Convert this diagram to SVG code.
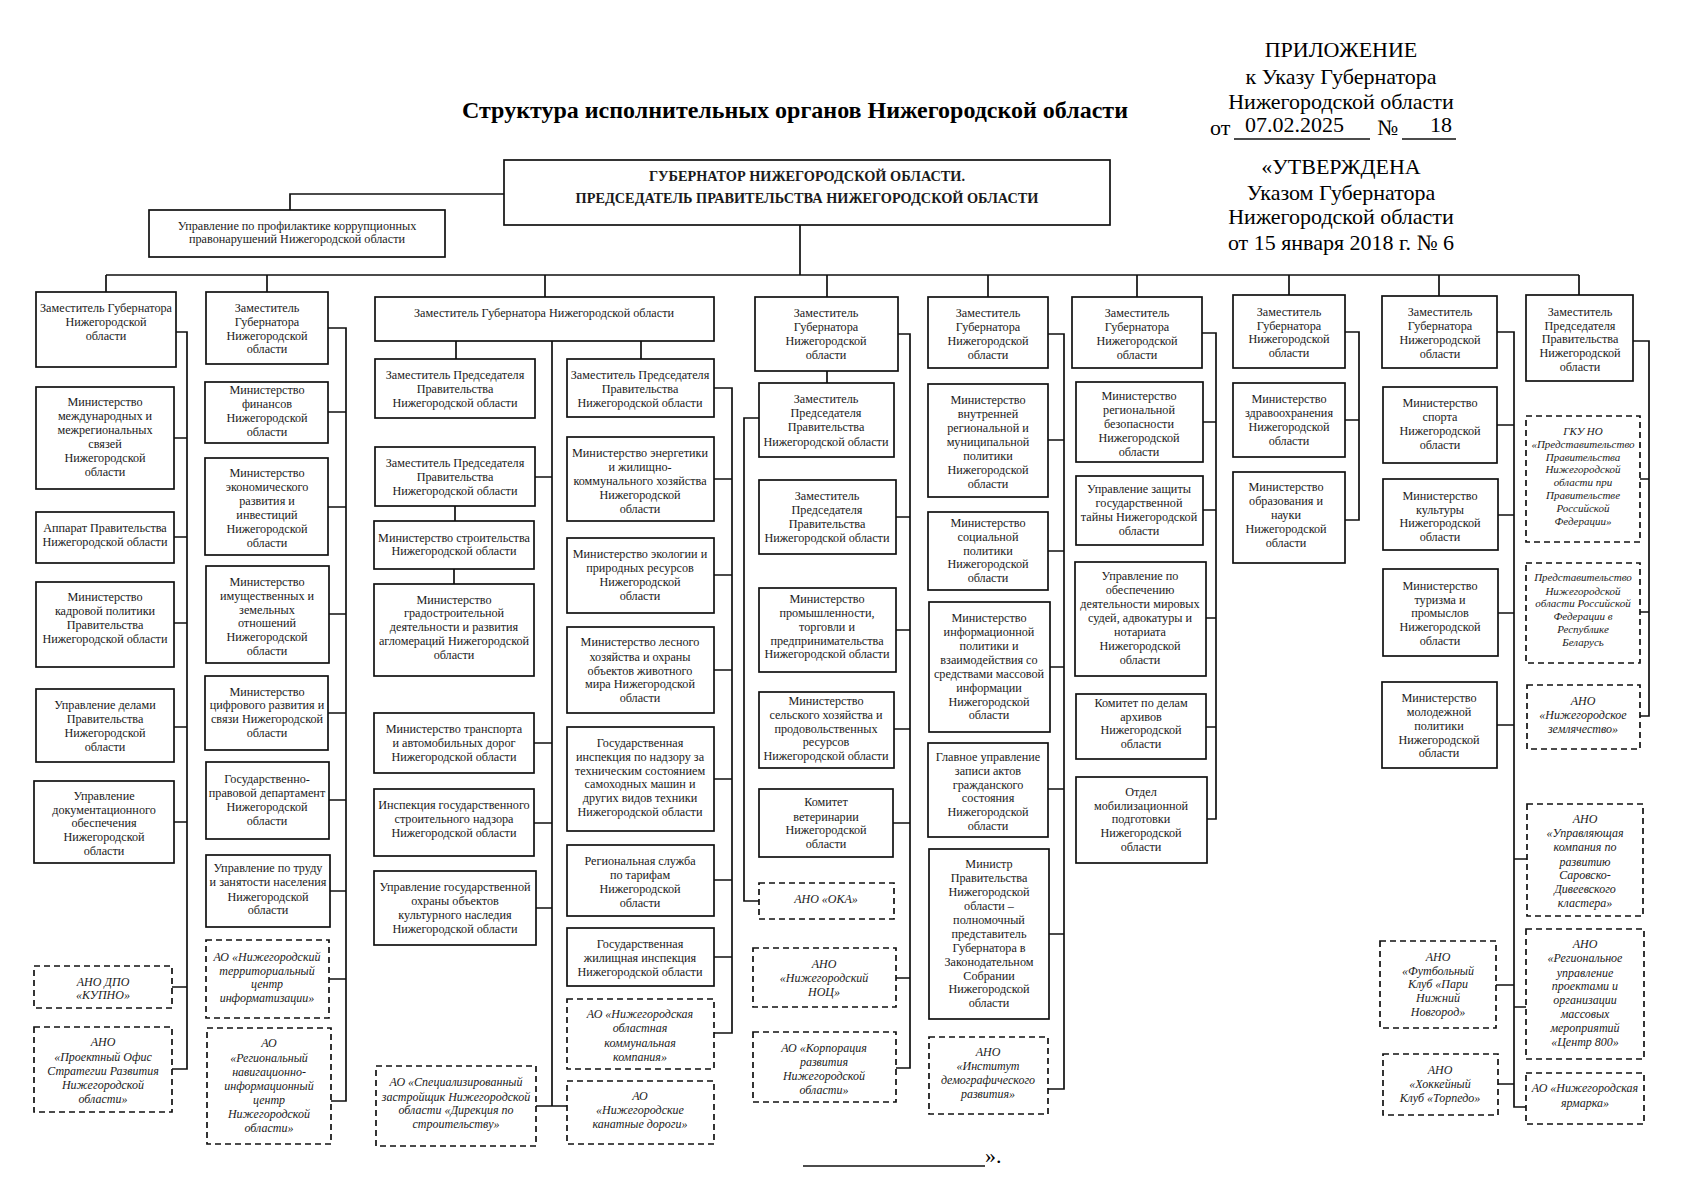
<svg xmlns="http://www.w3.org/2000/svg" width="1697" height="1200" viewBox="0 0 1697 1200">
<style>
.b{fill:#fff;stroke:#111;stroke-width:1.7}
.d{fill:#fff;stroke:#111;stroke-width:1.7;stroke-dasharray:6 4}
.t{font-family:"Liberation Serif","Times New Roman",serif;font-size:12.2px;text-anchor:middle;fill:#1a1a1a}
.i{font-family:"Liberation Serif","Times New Roman",serif;font-size:12px;font-style:italic;text-anchor:middle;fill:#1a1a1a}
.s{font-size:11px}
.h{font-family:"Liberation Serif","Times New Roman",serif;font-size:22px;text-anchor:middle;fill:#000}
.st{text-anchor:start}
.c{fill:none;stroke:#111;stroke-width:1.7}
</style>
<rect width="1697" height="1200" fill="#fff"/>
<g id="header">
<text class="h" x="795" y="118" style="font-size:24px;font-weight:bold">Структура исполнительных органов Нижегородской области</text>
<text class="h" x="1341" y="57">ПРИЛОЖЕНИЕ</text>
<text class="h" x="1341" y="84">к Указу Губернатора</text>
<text class="h" x="1341" y="109">Нижегородской области</text>
<text class="h st" x="1210" y="135">от</text>
<text class="h st" x="1245" y="132">07.02.2025</text>
<text class="h st" x="1377" y="135">№</text>
<text class="h st" x="1430" y="132">18</text>
<line class="c" x1="1234" y1="139" x2="1370" y2="139" stroke-width="1.2"/>
<line class="c" x1="1402" y1="139" x2="1456" y2="139" stroke-width="1.2"/>
<text class="h" x="1341" y="174">«УТВЕРЖДЕНА</text>
<text class="h" x="1341" y="200">Указом Губернатора</text>
<text class="h" x="1341" y="224">Нижегородской области</text>
<text class="h" x="1341" y="250">от 15 января 2018 г. № 6</text>
<line class="c" x1="803" y1="1166" x2="985" y2="1166" stroke-width="1.2"/>
<text class="h st" x="985" y="1163">».</text>
</g>
<g id="connectors">
<path class="c" d="M504 194H290V210M800 225V275M106 275H1579M106 275V292M267 275V292M545 275V297M827 275V297M988 275V297M1137 275V297M1289 275V295M1439 275V296M1579 275V295"/>
<path class="c" d="M176 332H187V1069H172M174 438H187M174 537H187M174 623H187M174 727H187M174 822H187M172 987H187"/>
<path class="c" d="M328 328H346V1101H331M328 412H346M328 507H346M329 614H346M328 713H346M329 800H346M330 891H346M329 979H346"/>
<path class="c" d="M456 341V359M641 341V359M552 341V1106M535 477H552M455 506V521M454 569V584M534 743H552M534 823H552M536 908H552M536 1106H567"/>
<path class="c" d="M714 388H732V1033H714M714 479H732M714 575H732M714 670H732M714 779H732M714 880H732M714 957H732"/>
<path class="c" d="M827 371V383M898 334H910V1068H896M896 517H910M896 630H910M894 729H910M893 823H910M896 978H910M759 418H744V901H759"/>
<path class="c" d="M1048 334H1064V1089H1048M1048 440H1064M1048 551H1064M1050 667H1064M1048 789H1064M1049 934H1064"/>
<path class="c" d="M1202 333H1216V819H1207M1203 422H1216M1203 510H1216M1206 618H1216M1206 727H1216"/>
<path class="c" d="M1345 332H1359V520H1345M1345 420H1359"/>
<path class="c" d="M1497 332H1514V1107H1526M1497 425H1514M1498 515H1514M1498 613H1514M1497 725H1514M1496 985H1514M1498 1084H1514M1514 859H1527M1514 1007H1526"/>
<path class="c" d="M1633 341H1649V716H1640M1640 479H1649M1640 612H1649"/>
</g>
<g id="governor"><rect class="b" x="504" y="160" width="606" height="65"/>
<text class="t" style="font-size:14.3px;font-weight:bold"><tspan x="807" y="181">ГУБЕРНАТОР НИЖЕГОРОДСКОЙ ОБЛАСТИ.</tspan><tspan x="807" y="203">ПРЕДСЕДАТЕЛЬ ПРАВИТЕЛЬСТВА НИЖЕГОРОДСКОЙ ОБЛАСТИ</tspan></text></g>
<g id="anticorr"><rect class="b" x="149" y="210" width="296" height="47"/>
<text class="t"><tspan x="297" y="230">Управление по профилактике коррупционных</tspan><tspan x="297" y="243">правонарушений Нижегородской области</tspan></text></g>

<g id="a1"><rect class="b" x="36" y="292" width="140" height="75"/><text class="t"><tspan x="106" y="312">Заместитель Губернатора</tspan><tspan x="106" y="326">Нижегородской</tspan><tspan x="106" y="340">области</tspan></text></g>
<g id="a2"><rect class="b" x="36" y="387" width="138" height="102"/><text class="t"><tspan x="105" y="406">Министерство</tspan><tspan x="105" y="420">международных и</tspan><tspan x="105" y="434">межрегиональных</tspan><tspan x="105" y="448">связей</tspan><tspan x="105" y="462">Нижегородской</tspan><tspan x="105" y="476">области</tspan></text></g>
<g id="a3"><rect class="b" x="36" y="512" width="138" height="51"/><text class="t"><tspan x="105" y="532">Аппарат Правительства</tspan><tspan x="105" y="546">Нижегородской области</tspan></text></g>
<g id="a4"><rect class="b" x="36" y="582" width="138" height="85"/><text class="t"><tspan x="105" y="601">Министерство</tspan><tspan x="105" y="615">кадровой политики</tspan><tspan x="105" y="629">Правительства</tspan><tspan x="105" y="643">Нижегородской области</tspan></text></g>
<g id="a5"><rect class="b" x="36" y="689" width="138" height="73"/><text class="t"><tspan x="105" y="709">Управление делами</tspan><tspan x="105" y="723">Правительства</tspan><tspan x="105" y="737">Нижегородской</tspan><tspan x="105" y="751">области</tspan></text></g>
<g id="a6"><rect class="b" x="34" y="781" width="140" height="82"/><text class="t"><tspan x="104" y="800">Управление</tspan><tspan x="104" y="814">документационного</tspan><tspan x="104" y="827">обеспечения</tspan><tspan x="104" y="841">Нижегородской</tspan><tspan x="104" y="855">области</tspan></text></g>
<g id="a7"><rect class="d" x="34" y="966" width="138" height="42"/><text class="i"><tspan x="103" y="986">АНО ДПО</tspan><tspan x="103" y="999">«КУПНО»</tspan></text></g>
<g id="a8"><rect class="d" x="34" y="1027" width="138" height="85"/><text class="i"><tspan x="103" y="1046">АНО</tspan><tspan x="103" y="1061">«Проектный Офис</tspan><tspan x="103" y="1075">Стратегии Развития</tspan><tspan x="103" y="1089">Нижегородской</tspan><tspan x="103" y="1103">области»</tspan></text></g>

<g id="b1"><rect class="b" x="206" y="292" width="122" height="72"/><text class="t"><tspan x="267" y="312">Заместитель</tspan><tspan x="267" y="326">Губернатора</tspan><tspan x="267" y="340">Нижегородской</tspan><tspan x="267" y="353">области</tspan></text></g>
<g id="b2"><rect class="b" x="205" y="382" width="123" height="61"/><text class="t"><tspan x="267" y="394">Министерство</tspan><tspan x="267" y="408">финансов</tspan><tspan x="267" y="422">Нижегородской</tspan><tspan x="267" y="436">области</tspan></text></g>
<g id="b3"><rect class="b" x="205" y="458" width="123" height="97"/><text class="t"><tspan x="267" y="477">Министерство</tspan><tspan x="267" y="491">экономического</tspan><tspan x="267" y="505">развития и</tspan><tspan x="267" y="519">инвестиций</tspan><tspan x="267" y="533">Нижегородской</tspan><tspan x="267" y="547">области</tspan></text></g>
<g id="b4"><rect class="b" x="206" y="566" width="123" height="97"/><text class="t"><tspan x="267" y="586">Министерство</tspan><tspan x="267" y="600">имущественных и</tspan><tspan x="267" y="614">земельных</tspan><tspan x="267" y="627">отношений</tspan><tspan x="267" y="641">Нижегородской</tspan><tspan x="267" y="655">области</tspan></text></g>
<g id="b5"><rect class="b" x="205" y="676" width="123" height="74"/><text class="t"><tspan x="267" y="696">Министерство</tspan><tspan x="267" y="709">цифрового развития и</tspan><tspan x="267" y="723">связи Нижегородской</tspan><tspan x="267" y="737">области</tspan></text></g>
<g id="b6"><rect class="b" x="206" y="762" width="123" height="77"/><text class="t"><tspan x="267" y="783">Государственно-</tspan><tspan x="267" y="797">правовой департамент</tspan><tspan x="267" y="811">Нижегородской</tspan><tspan x="267" y="825">области</tspan></text></g>
<g id="b7"><rect class="b" x="206" y="855" width="124" height="72"/><text class="t"><tspan x="268" y="872">Управление по труду</tspan><tspan x="268" y="886">и занятости населения</tspan><tspan x="268" y="901">Нижегородской</tspan><tspan x="268" y="914">области</tspan></text></g>
<g id="b8"><rect class="d" x="206" y="940" width="123" height="78"/><text class="i"><tspan x="267" y="961">АО «Нижегородский</tspan><tspan x="267" y="975">территориальный</tspan><tspan x="267" y="988">центр</tspan><tspan x="267" y="1002">информатизации»</tspan></text></g>
<g id="b9"><rect class="d" x="207" y="1028" width="124" height="116"/><text class="i"><tspan x="269" y="1047">АО</tspan><tspan x="269" y="1062">«Региональный</tspan><tspan x="269" y="1076">навигационно-</tspan><tspan x="269" y="1090">информационный</tspan><tspan x="269" y="1104">центр</tspan><tspan x="269" y="1118">Нижегородской</tspan><tspan x="269" y="1132">области»</tspan></text></g>

<g id="c0"><rect class="b" x="375" y="297" width="339" height="44"/><text class="t"><tspan x="544" y="317">Заместитель Губернатора Нижегородской области</tspan></text></g>
<g id="c1"><rect class="b" x="375" y="359" width="160" height="59"/><text class="t"><tspan x="455" y="379">Заместитель Председателя</tspan><tspan x="455" y="393">Правительства</tspan><tspan x="455" y="407">Нижегородской области</tspan></text></g>
<g id="c2"><rect class="b" x="375" y="447" width="160" height="59"/><text class="t"><tspan x="455" y="467">Заместитель Председателя</tspan><tspan x="455" y="481">Правительства</tspan><tspan x="455" y="495">Нижегородской области</tspan></text></g>
<g id="c3"><rect class="b" x="374" y="521" width="160" height="48"/><text class="t"><tspan x="454" y="542">Министерство строительства</tspan><tspan x="454" y="555">Нижегородской области</tspan></text></g>
<g id="c4"><rect class="b" x="374" y="584" width="160" height="92"/><text class="t"><tspan x="454" y="604">Министерство</tspan><tspan x="454" y="617">градостроительной</tspan><tspan x="454" y="631">деятельности и развития</tspan><tspan x="454" y="645">агломераций Нижегородской</tspan><tspan x="454" y="659">области</tspan></text></g>
<g id="c9"><rect class="b" x="374" y="713" width="160" height="60"/><text class="t"><tspan x="454" y="733">Министерство транспорта</tspan><tspan x="454" y="747">и автомобильных дорог</tspan><tspan x="454" y="761">Нижегородской области</tspan></text></g>
<g id="c10"><rect class="b" x="374" y="789" width="160" height="67"/><text class="t"><tspan x="454" y="809">Инспекция государственного</tspan><tspan x="454" y="823">строительного надзора</tspan><tspan x="454" y="837">Нижегородской области</tspan></text></g>
<g id="c11"><rect class="b" x="374" y="871" width="162" height="74"/><text class="t"><tspan x="455" y="891">Управление государственной</tspan><tspan x="455" y="905">охраны объектов</tspan><tspan x="455" y="919">культурного наследия</tspan><tspan x="455" y="933">Нижегородской области</tspan></text></g>
<g id="c12"><rect class="d" x="376" y="1066" width="160" height="80"/><text class="i"><tspan x="456" y="1086">АО «Специализированный</tspan><tspan x="456" y="1101">застройщик Нижегородской</tspan><tspan x="456" y="1114">области «Дирекция по</tspan><tspan x="456" y="1128">строительству»</tspan></text></g>
<g id="c5"><rect class="b" x="567" y="359" width="147" height="58"/><text class="t"><tspan x="640" y="379">Заместитель Председателя</tspan><tspan x="640" y="393">Правительства</tspan><tspan x="640" y="407">Нижегородской области</tspan></text></g>
<g id="c6"><rect class="b" x="567" y="437" width="147" height="84"/><text class="t"><tspan x="640" y="457">Министерство энергетики</tspan><tspan x="640" y="471">и жилищно-</tspan><tspan x="640" y="485">коммунального хозяйства</tspan><tspan x="640" y="499">Нижегородской</tspan><tspan x="640" y="513">области</tspan></text></g>
<g id="c7"><rect class="b" x="567" y="538" width="147" height="75"/><text class="t"><tspan x="640" y="558">Министерство экологии и</tspan><tspan x="640" y="572">природных ресурсов</tspan><tspan x="640" y="586">Нижегородской</tspan><tspan x="640" y="600">области</tspan></text></g>
<g id="c8"><rect class="b" x="567" y="627" width="147" height="86"/><text class="t"><tspan x="640" y="646">Министерство лесного</tspan><tspan x="640" y="661">хозяйства и охраны</tspan><tspan x="640" y="675">объектов животного</tspan><tspan x="640" y="688">мира Нижегородской</tspan><tspan x="640" y="702">области</tspan></text></g>
<g id="c13"><rect class="b" x="567" y="727" width="147" height="104"/><text class="t"><tspan x="640" y="747">Государственная</tspan><tspan x="640" y="761">инспекция по надзору за</tspan><tspan x="640" y="775">техническим состоянием</tspan><tspan x="640" y="788">самоходных машин и</tspan><tspan x="640" y="802">других видов техники</tspan><tspan x="640" y="816">Нижегородской области</tspan></text></g>
<g id="c14"><rect class="b" x="567" y="845" width="147" height="71"/><text class="t"><tspan x="640" y="865">Региональная служба</tspan><tspan x="640" y="879">по тарифам</tspan><tspan x="640" y="893">Нижегородской</tspan><tspan x="640" y="907">области</tspan></text></g>
<g id="c15"><rect class="b" x="567" y="928" width="147" height="58"/><text class="t"><tspan x="640" y="948">Государственная</tspan><tspan x="640" y="962">жилищная инспекция</tspan><tspan x="640" y="976">Нижегородской области</tspan></text></g>
<g id="c16"><rect class="d" x="567" y="999" width="147" height="70"/><text class="i"><tspan x="640" y="1018">АО «Нижегородская</tspan><tspan x="640" y="1032">областная</tspan><tspan x="640" y="1047">коммунальная</tspan><tspan x="640" y="1061">компания»</tspan></text></g>
<g id="c18"><rect class="d" x="567" y="1081" width="147" height="63"/><text class="i"><tspan x="640" y="1100">АО</tspan><tspan x="640" y="1114">«Нижегородские</tspan><tspan x="640" y="1128">канатные дороги»</tspan></text></g>

<g id="d1"><rect class="b" x="755" y="297" width="143" height="74"/><text class="t"><tspan x="826" y="317">Заместитель</tspan><tspan x="826" y="331">Губернатора</tspan><tspan x="826" y="345">Нижегородской</tspan><tspan x="826" y="359">области</tspan></text></g>
<g id="d2"><rect class="b" x="759" y="383" width="135" height="74"/><text class="t"><tspan x="826" y="403">Заместитель</tspan><tspan x="826" y="417">Председателя</tspan><tspan x="826" y="431">Правительства</tspan><tspan x="826" y="446">Нижегородской области</tspan></text></g>
<g id="d3"><rect class="b" x="759" y="480" width="137" height="74"/><text class="t"><tspan x="827" y="500">Заместитель</tspan><tspan x="827" y="514">Председателя</tspan><tspan x="827" y="528">Правительства</tspan><tspan x="827" y="542">Нижегородской области</tspan></text></g>
<g id="d4"><rect class="b" x="759" y="588" width="137" height="84"/><text class="t"><tspan x="827" y="603">Министерство</tspan><tspan x="827" y="617">промышленности,</tspan><tspan x="827" y="631">торговли и</tspan><tspan x="827" y="645">предпринимательства</tspan><tspan x="827" y="658">Нижегородской области</tspan></text></g>
<g id="d5"><rect class="b" x="759" y="692" width="135" height="76"/><text class="t"><tspan x="826" y="705">Министерство</tspan><tspan x="826" y="719">сельского хозяйства и</tspan><tspan x="826" y="733">продовольственных</tspan><tspan x="826" y="746">ресурсов</tspan><tspan x="826" y="760">Нижегородской области</tspan></text></g>
<g id="d6"><rect class="b" x="759" y="789" width="134" height="68"/><text class="t"><tspan x="826" y="806">Комитет</tspan><tspan x="826" y="821">ветеринарии</tspan><tspan x="826" y="834">Нижегородской</tspan><tspan x="826" y="848">области</tspan></text></g>
<g id="d7"><rect class="d" x="759" y="883" width="135" height="36"/><text class="i"><tspan x="826" y="903">АНО «ОКА»</tspan></text></g>
<g id="d8"><rect class="d" x="753" y="948" width="143" height="59"/><text class="i"><tspan x="824" y="968">АНО</tspan><tspan x="824" y="982">«Нижегородский</tspan><tspan x="824" y="996">НОЦ»</tspan></text></g>
<g id="d9"><rect class="d" x="753" y="1032" width="143" height="70"/><text class="i"><tspan x="824" y="1052">АО «Корпорация</tspan><tspan x="824" y="1066">развития</tspan><tspan x="824" y="1080">Нижегородской</tspan><tspan x="824" y="1094">области»</tspan></text></g>

<g id="e1"><rect class="b" x="928" y="297" width="120" height="71"/><text class="t"><tspan x="988" y="317">Заместитель</tspan><tspan x="988" y="331">Губернатора</tspan><tspan x="988" y="345">Нижегородской</tspan><tspan x="988" y="359">области</tspan></text></g>
<g id="e2"><rect class="b" x="928" y="384" width="120" height="113"/><text class="t"><tspan x="988" y="404">Министерство</tspan><tspan x="988" y="418">внутренней</tspan><tspan x="988" y="432">региональной и</tspan><tspan x="988" y="446">муниципальной</tspan><tspan x="988" y="460">политики</tspan><tspan x="988" y="474">Нижегородской</tspan><tspan x="988" y="488">области</tspan></text></g>
<g id="e3"><rect class="b" x="928" y="512" width="120" height="78"/><text class="t"><tspan x="988" y="527">Министерство</tspan><tspan x="988" y="541">социальной</tspan><tspan x="988" y="555">политики</tspan><tspan x="988" y="568">Нижегородской</tspan><tspan x="988" y="582">области</tspan></text></g>
<g id="e4"><rect class="b" x="929" y="602" width="121" height="130"/><text class="t"><tspan x="989" y="622">Министерство</tspan><tspan x="989" y="636">информационной</tspan><tspan x="989" y="650">политики и</tspan><tspan x="989" y="664">взаимодействия со</tspan><tspan x="989" y="678">средствами массовой</tspan><tspan x="989" y="692">информации</tspan><tspan x="989" y="706">Нижегородской</tspan><tspan x="989" y="719">области</tspan></text></g>
<g id="e5"><rect class="b" x="928" y="743" width="120" height="94"/><text class="t"><tspan x="988" y="761">Главное управление</tspan><tspan x="988" y="775">записи актов</tspan><tspan x="988" y="789">гражданского</tspan><tspan x="988" y="802">состояния</tspan><tspan x="988" y="816">Нижегородской</tspan><tspan x="988" y="830">области</tspan></text></g>
<g id="e6"><rect class="b" x="929" y="849" width="120" height="170"/><text class="t"><tspan x="989" y="868">Министр</tspan><tspan x="989" y="882">Правительства</tspan><tspan x="989" y="896">Нижегородской</tspan><tspan x="989" y="910">области –</tspan><tspan x="989" y="924">полномочный</tspan><tspan x="989" y="938">представитель</tspan><tspan x="989" y="952">Губернатора в</tspan><tspan x="989" y="966">Законодательном</tspan><tspan x="989" y="980">Собрании</tspan><tspan x="989" y="993">Нижегородской</tspan><tspan x="989" y="1007">области</tspan></text></g>
<g id="e7"><rect class="d" x="929" y="1037" width="119" height="77"/><text class="i"><tspan x="988" y="1056">АНО</tspan><tspan x="988" y="1070">«Институт</tspan><tspan x="988" y="1084">демографического</tspan><tspan x="988" y="1098">развития»</tspan></text></g>

<g id="f1"><rect class="b" x="1072" y="297" width="130" height="71"/><text class="t"><tspan x="1137" y="317">Заместитель</tspan><tspan x="1137" y="331">Губернатора</tspan><tspan x="1137" y="345">Нижегородской</tspan><tspan x="1137" y="359">области</tspan></text></g>
<g id="f2"><rect class="b" x="1076" y="382" width="127" height="80"/><text class="t"><tspan x="1139" y="400">Министерство</tspan><tspan x="1139" y="414">региональной</tspan><tspan x="1139" y="428">безопасности</tspan><tspan x="1139" y="442">Нижегородской</tspan><tspan x="1139" y="456">области</tspan></text></g>
<g id="f3"><rect class="b" x="1076" y="476" width="127" height="69"/><text class="t"><tspan x="1139" y="493">Управление защиты</tspan><tspan x="1139" y="507">государственной</tspan><tspan x="1139" y="521">тайны Нижегородской</tspan><tspan x="1139" y="535">области</tspan></text></g>
<g id="f4"><rect class="b" x="1075" y="562" width="131" height="114"/><text class="t"><tspan x="1140" y="580">Управление по</tspan><tspan x="1140" y="594">обеспечению</tspan><tspan x="1140" y="608">деятельности мировых</tspan><tspan x="1140" y="622">судей, адвокатуры и</tspan><tspan x="1140" y="636">нотариата</tspan><tspan x="1140" y="650">Нижегородской</tspan><tspan x="1140" y="664">области</tspan></text></g>
<g id="f5"><rect class="b" x="1076" y="694" width="130" height="65"/><text class="t"><tspan x="1141" y="707">Комитет по делам</tspan><tspan x="1141" y="721">архивов</tspan><tspan x="1141" y="734">Нижегородской</tspan><tspan x="1141" y="748">области</tspan></text></g>
<g id="f6"><rect class="b" x="1076" y="777" width="131" height="86"/><text class="t"><tspan x="1141" y="796">Отдел</tspan><tspan x="1141" y="810">мобилизационной</tspan><tspan x="1141" y="823">подготовки</tspan><tspan x="1141" y="837">Нижегородской</tspan><tspan x="1141" y="851">области</tspan></text></g>

<g id="g1"><rect class="b" x="1233" y="295" width="112" height="73"/><text class="t"><tspan x="1289" y="316">Заместитель</tspan><tspan x="1289" y="330">Губернатора</tspan><tspan x="1289" y="343">Нижегородской</tspan><tspan x="1289" y="357">области</tspan></text></g>
<g id="g2"><rect class="b" x="1233" y="383" width="112" height="74"/><text class="t"><tspan x="1289" y="403">Министерство</tspan><tspan x="1289" y="417">здравоохранения</tspan><tspan x="1289" y="431">Нижегородской</tspan><tspan x="1289" y="445">области</tspan></text></g>
<g id="g3"><rect class="b" x="1233" y="472" width="112" height="91"/><text class="t"><tspan x="1286" y="491">Министерство</tspan><tspan x="1286" y="505">образования и</tspan><tspan x="1286" y="519">науки</tspan><tspan x="1286" y="533">Нижегородской</tspan><tspan x="1286" y="547">области</tspan></text></g>

<g id="h1"><rect class="b" x="1382" y="296" width="115" height="72"/><text class="t"><tspan x="1440" y="316">Заместитель</tspan><tspan x="1440" y="330">Губернатора</tspan><tspan x="1440" y="344">Нижегородской</tspan><tspan x="1440" y="358">области</tspan></text></g>
<g id="h2"><rect class="b" x="1383" y="387" width="114" height="76"/><text class="t"><tspan x="1440" y="407">Министерство</tspan><tspan x="1440" y="421">спорта</tspan><tspan x="1440" y="435">Нижегородской</tspan><tspan x="1440" y="449">области</tspan></text></g>
<g id="h3"><rect class="b" x="1383" y="479" width="115" height="71"/><text class="t"><tspan x="1440" y="500">Министерство</tspan><tspan x="1440" y="514">культуры</tspan><tspan x="1440" y="527">Нижегородской</tspan><tspan x="1440" y="541">области</tspan></text></g>
<g id="h4"><rect class="b" x="1383" y="569" width="115" height="87"/><text class="t"><tspan x="1440" y="590">Министерство</tspan><tspan x="1440" y="604">туризма и</tspan><tspan x="1440" y="617">промыслов</tspan><tspan x="1440" y="631">Нижегородской</tspan><tspan x="1440" y="645">области</tspan></text></g>
<g id="h5"><rect class="b" x="1382" y="682" width="115" height="86"/><text class="t"><tspan x="1439" y="702">Министерство</tspan><tspan x="1439" y="716">молодежной</tspan><tspan x="1439" y="730">политики</tspan><tspan x="1439" y="744">Нижегородской</tspan><tspan x="1439" y="757">области</tspan></text></g>
<g id="h6"><rect class="d" x="1380" y="941" width="116" height="87"/><text class="i"><tspan x="1438" y="961">АНО</tspan><tspan x="1438" y="975">«Футбольный</tspan><tspan x="1438" y="988">Клуб «Пари</tspan><tspan x="1438" y="1002">Нижний</tspan><tspan x="1438" y="1016">Новгород»</tspan></text></g>
<g id="h7"><rect class="d" x="1383" y="1054" width="115" height="61"/><text class="i"><tspan x="1440" y="1074">АНО</tspan><tspan x="1440" y="1088">«Хоккейный</tspan><tspan x="1440" y="1102">Клуб «Торпедо»</tspan></text></g>

<g id="i1"><rect class="b" x="1526" y="295" width="107" height="86"/><text class="t"><tspan x="1580" y="316">Заместитель</tspan><tspan x="1580" y="330">Председателя</tspan><tspan x="1580" y="343">Правительства</tspan><tspan x="1580" y="357">Нижегородской</tspan><tspan x="1580" y="371">области</tspan></text></g>
<g id="i2"><rect class="d" x="1526" y="416" width="114" height="126"/><text class="i s"><tspan x="1583" y="435">ГКУ НО</tspan><tspan x="1583" y="448">«Представительство</tspan><tspan x="1583" y="461">Правительства</tspan><tspan x="1583" y="473">Нижегородской</tspan><tspan x="1583" y="486">области при</tspan><tspan x="1583" y="499">Правительстве</tspan><tspan x="1583" y="512">Российской</tspan><tspan x="1583" y="525">Федерации»</tspan></text></g>
<g id="i3"><rect class="d" x="1526" y="563" width="114" height="100"/><text class="i s"><tspan x="1583" y="581">Представительство</tspan><tspan x="1583" y="595">Нижегородской</tspan><tspan x="1583" y="607">области Российской</tspan><tspan x="1583" y="620">Федерации в</tspan><tspan x="1583" y="633">Республике</tspan><tspan x="1583" y="646">Беларусь</tspan></text></g>
<g id="i4"><rect class="d" x="1527" y="685" width="113" height="64"/><text class="i"><tspan x="1583" y="705">АНО</tspan><tspan x="1583" y="719">«Нижегородское</tspan><tspan x="1583" y="733">землячество»</tspan></text></g>
<g id="i5"><rect class="d" x="1527" y="804" width="116" height="112"/><text class="i"><tspan x="1585" y="823">АНО</tspan><tspan x="1585" y="837">«Управляющая</tspan><tspan x="1585" y="851">компания по</tspan><tspan x="1585" y="866">развитию</tspan><tspan x="1585" y="879">Саровско-</tspan><tspan x="1585" y="893">Дивеевского</tspan><tspan x="1585" y="907">кластера»</tspan></text></g>
<g id="i6"><rect class="d" x="1526" y="929" width="118" height="130"/><text class="i"><tspan x="1585" y="948">АНО</tspan><tspan x="1585" y="962">«Региональное</tspan><tspan x="1585" y="977">управление</tspan><tspan x="1585" y="990">проектами и</tspan><tspan x="1585" y="1004">организации</tspan><tspan x="1585" y="1018">массовых</tspan><tspan x="1585" y="1032">мероприятий</tspan><tspan x="1585" y="1046">«Центр 800»</tspan></text></g>
<g id="i7"><rect class="d" x="1526" y="1073" width="118" height="51"/><text class="i"><tspan x="1585" y="1092">АО «Нижегородская</tspan><tspan x="1585" y="1107">ярмарка»</tspan></text></g>
</svg>
